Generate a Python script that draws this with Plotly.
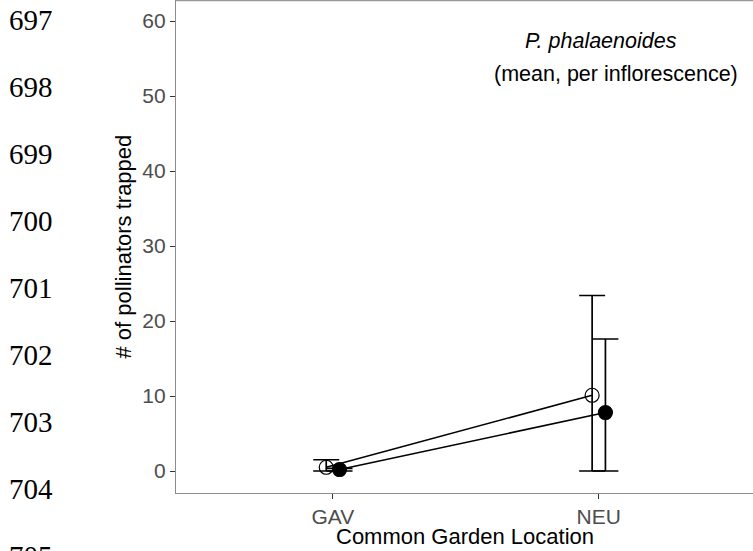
import plotly.graph_objects as go

# ---- data ----
locations = ["GAV", "NEU"]
loc_pos = [1, 2]
dodge = 0.025

open_mean = [0.5, 10.1]
open_low = [0.0, 0.0]
open_high = [1.5, 23.4]

filled_mean = [0.2, 7.8]
filled_low = [0.0, 0.0]
filled_high = [0.35, 17.6]

y_ticks = [0, 10, 20, 30, 40, 50, 60]
line_numbers = ["697", "698", "699", "700", "701", "702", "703", "704", "705"]

W, H = 753, 551
L, B = 176, 58
PW, PH = W - L, H - B


def px_x(px):
    return (px - L) / PW


def px_y(py):
    return 1 - py / PH


fig = go.Figure()


def add_series(means, lows, highs, offset, symbol):
    xs = [p + offset for p in loc_pos]
    fig.add_trace(go.Scatter(
        x=xs, y=means, mode="lines+markers",
        line=dict(color="black", width=1.6),
        marker=dict(symbol=symbol, size=14, color="black",
                    line=dict(color="black", width=1.2)),
        error_y=dict(type="data", symmetric=False,
                     array=[h - m for h, m in zip(highs, means)],
                     arrayminus=[m - l for m, l in zip(means, lows)],
                     color="black", thickness=1.7, width=13),
        showlegend=False, cliponaxis=False,
    ))


add_series(open_mean, open_low, open_high, -dodge, "circle-open")
add_series(filled_mean, filled_low, filled_high, dodge, "circle")

annotations = [
    dict(text="<i>P. phalaenoides</i>", xref="paper", yref="paper",
         x=px_x(601), y=px_y(41), xanchor="center", yanchor="middle",
         showarrow=False, font=dict(family="Liberation Sans", size=21.5, color="black")),
    dict(text="(mean, per inflorescence)", xref="paper", yref="paper",
         x=px_x(616), y=px_y(74), xanchor="center", yanchor="middle",
         showarrow=False, font=dict(family="Liberation Sans", size=21.5, color="black")),
    dict(text="Common Garden Location", xref="paper", yref="paper",
         x=0.5, y=px_y(536), xanchor="center", yanchor="middle",
         showarrow=False, font=dict(family="Liberation Sans", size=22, color="black")),
    dict(text="# of pollinators trapped", xref="paper", yref="paper",
         x=px_x(123), y=0.5, xanchor="center", yanchor="middle", textangle=-90,
         showarrow=False, font=dict(family="Liberation Sans", size=22, color="black")),
]

for i, t in enumerate(line_numbers):
    annotations.append(dict(
        text=t, xref="paper", yref="paper",
        x=px_x(55), y=px_y(20 + 67 * i), xanchor="right", yanchor="middle",
        showarrow=False, font=dict(family="Liberation Serif", size=29, color="black")))

fig.update_layout(
    width=W, height=H,
    margin=dict(l=L, r=0, t=0, b=B),
    plot_bgcolor="white", paper_bgcolor="white",
    annotations=annotations,
    shapes=[dict(type="line", xref="paper", yref="paper", x0=0, x1=1, y0=0.999, y1=0.999,
                 line=dict(color="#999999", width=1.5))],
    xaxis=dict(range=[0.41, 2.58], tickvals=loc_pos, ticktext=locations,
               showgrid=False, zeroline=False, showline=True, linecolor="#8c8c8c", linewidth=1.3,
               ticks="outside", ticklen=5, tickcolor="#333333", tickwidth=1,
               tickfont=dict(family="Liberation Sans", size=21, color="#4D4D4D")),
    yaxis=dict(range=[-2.93, 62.8], tickvals=y_ticks,
               showgrid=False, zeroline=False, showline=True, linecolor="#8c8c8c", linewidth=1.3,
               ticks="outside", ticklen=5, tickcolor="#333333", tickwidth=1,
               tickfont=dict(family="Liberation Sans", size=21, color="#4D4D4D")),
)

fig.write_html("out.html")
